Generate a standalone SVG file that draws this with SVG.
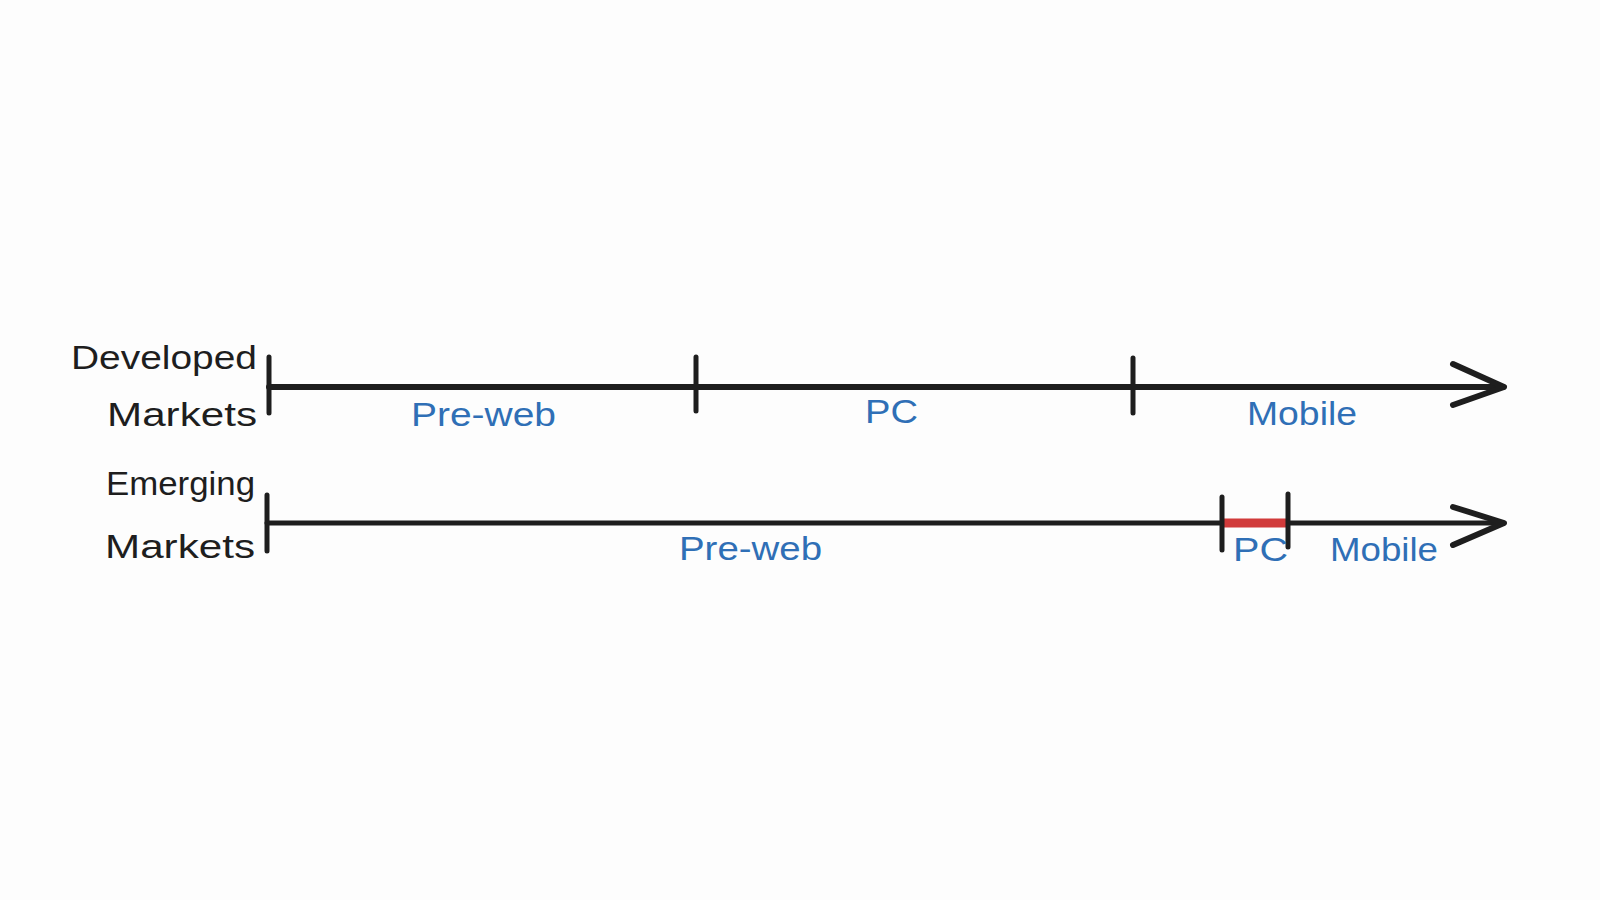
<svg xmlns="http://www.w3.org/2000/svg" width="1600" height="900" viewBox="0 0 1600 900">
  <style>
    .lbl { font-family: "Liberation Sans", Arial, sans-serif; font-size: 34px; fill: #1e1e1e; }
    .era { font-family: "Liberation Sans", Arial, sans-serif; font-size: 34px; fill: #2f6fb6; }
    .axis { stroke: #1e1e1e; stroke-linecap: round; fill: none; }
    .tick { stroke: #1e1e1e; stroke-width: 5; stroke-linecap: round; }
  </style>
  <rect width="1600" height="900" fill="#fdfdfd"/>

  <g id="developed-label">
    <text class="lbl" x="71" y="369" textLength="186" lengthAdjust="spacingAndGlyphs">Developed</text>
    <text class="lbl" x="107" y="426" textLength="150" lengthAdjust="spacingAndGlyphs">Markets</text>
  </g>
  <g id="emerging-label">
    <text class="lbl" x="106" y="495" textLength="149" lengthAdjust="spacingAndGlyphs">Emerging</text>
    <text class="lbl" x="105" y="558" textLength="150" lengthAdjust="spacingAndGlyphs">Markets</text>
  </g>

  <g id="connectors">
    <g id="developed-axis">
      <line class="axis" x1="269" y1="387" x2="1503" y2="387" stroke-width="6"/>
      <polyline class="axis" points="1453,364 1504,387 1453,405" stroke-width="6" stroke-linejoin="round"/>
      <line class="tick" x1="269" y1="357" x2="269" y2="413"/>
      <line class="tick" x1="696" y1="357" x2="696" y2="411"/>
      <line class="tick" x1="1133" y1="358" x2="1133" y2="413"/>
    </g>
    <g id="emerging-axis">
      <line class="axis" x1="267" y1="523" x2="1503" y2="523" stroke-width="5"/>
      <line x1="1224" y1="523" x2="1286" y2="523" stroke="#d13b3b" stroke-width="9"/>
      <polyline class="axis" points="1453,507 1504,523 1453,545" stroke-width="6" stroke-linejoin="round"/>
      <line class="tick" x1="267" y1="495" x2="267" y2="551"/>
      <line class="tick" x1="1222" y1="497" x2="1222" y2="550"/>
      <line class="tick" x1="1288" y1="494" x2="1288" y2="547"/>
    </g>
  </g>

  <g id="developed-eras">
    <text class="era" x="411" y="426" textLength="145" lengthAdjust="spacingAndGlyphs">Pre-web</text>
    <text class="era" x="865" y="423" textLength="53" lengthAdjust="spacingAndGlyphs">PC</text>
    <text class="era" x="1247" y="425" textLength="110" lengthAdjust="spacingAndGlyphs">Mobile</text>
  </g>
  <g id="emerging-eras">
    <text class="era" x="679" y="560" textLength="143" lengthAdjust="spacingAndGlyphs">Pre-web</text>
    <text class="era" x="1233" y="561" textLength="55" lengthAdjust="spacingAndGlyphs">PC</text>
    <text class="era" x="1330" y="561" textLength="108" lengthAdjust="spacingAndGlyphs">Mobile</text>
  </g>
</svg>
